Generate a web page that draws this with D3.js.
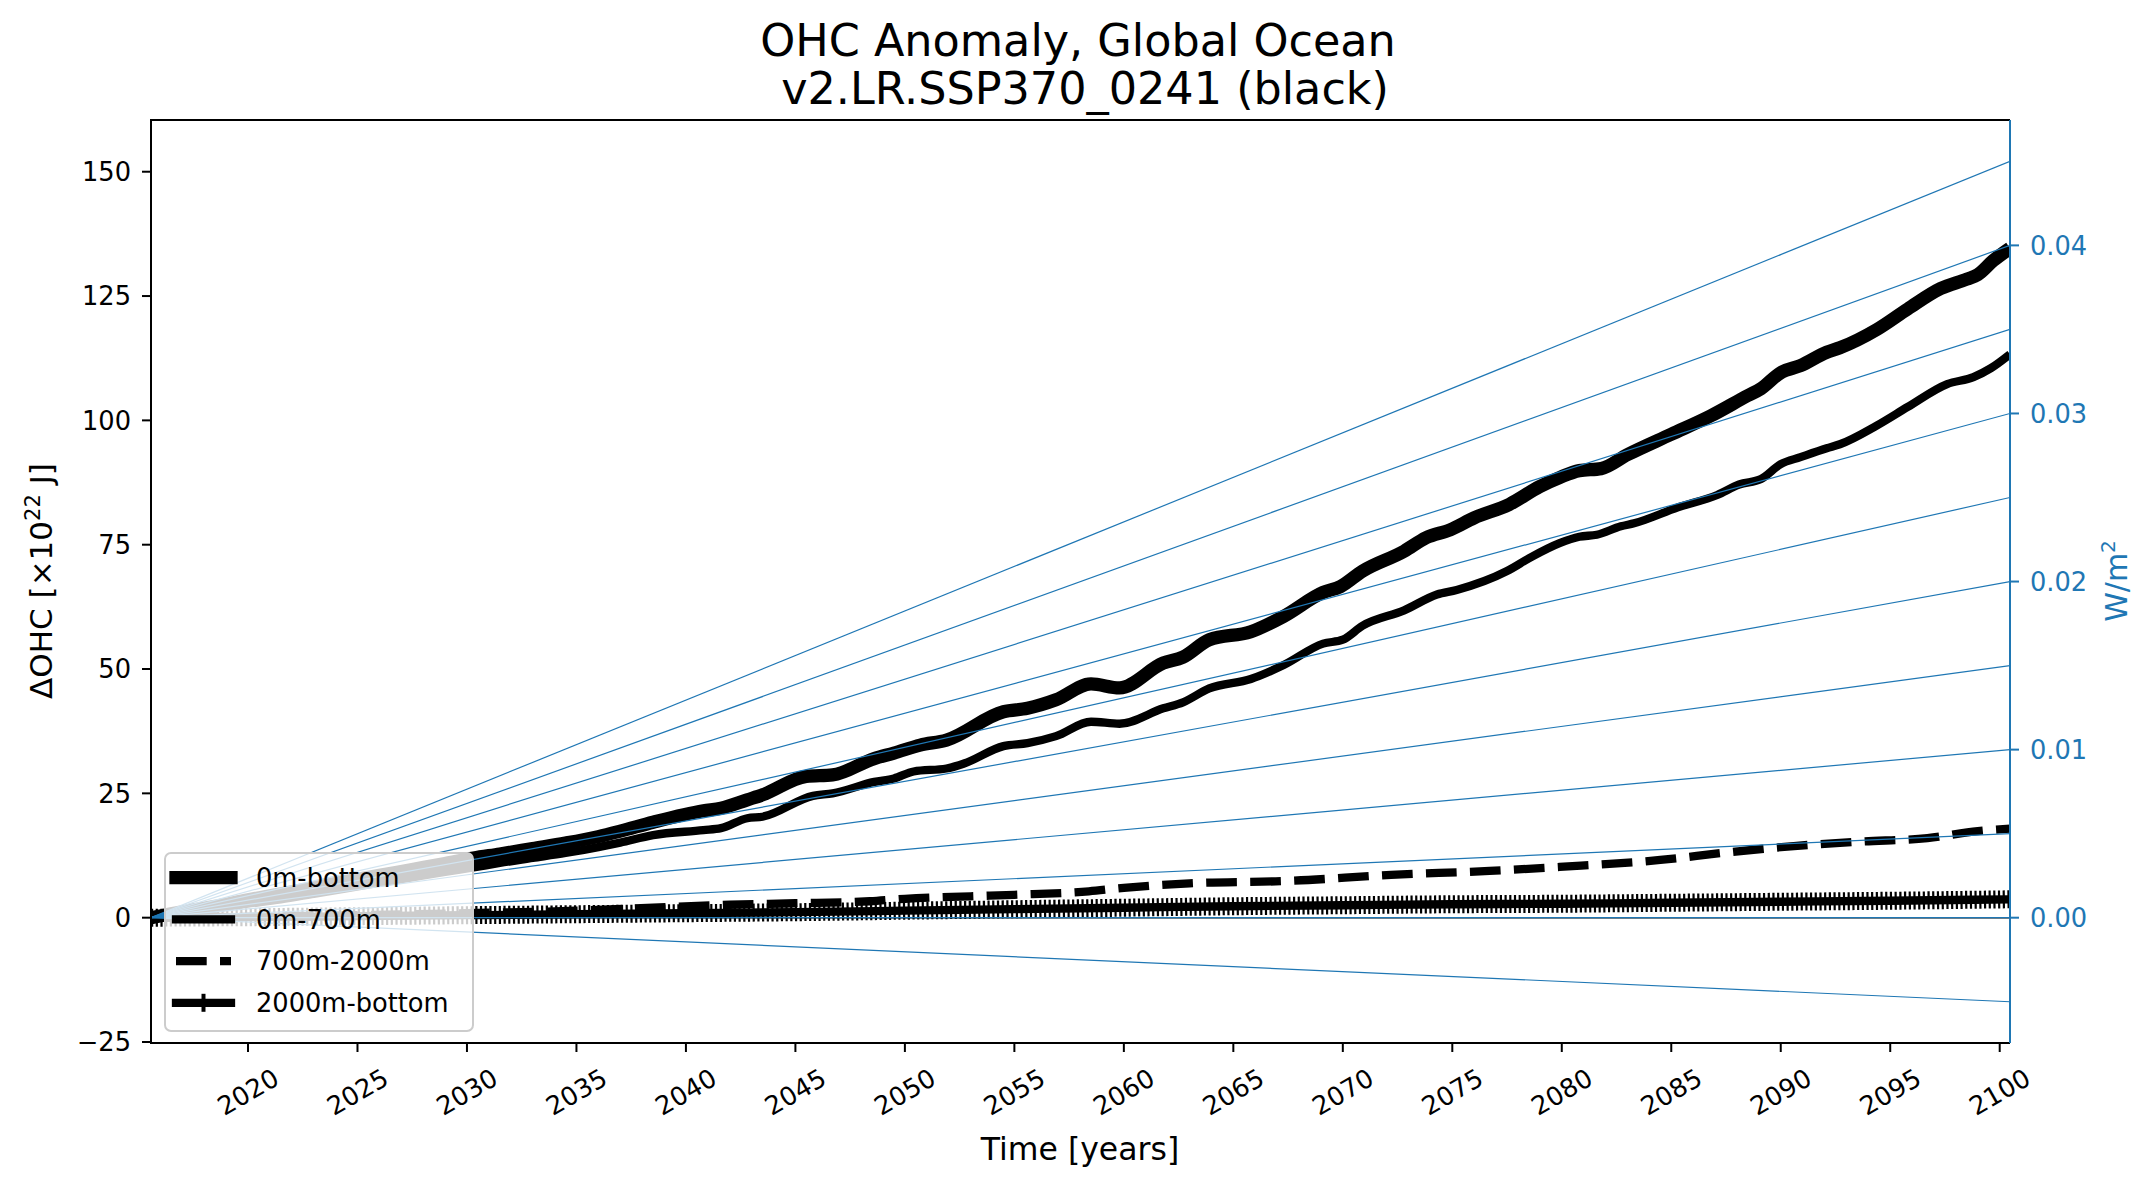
<!DOCTYPE html>
<html><head><meta charset="utf-8">
<script src="https://cdn.jsdelivr.net/npm/d3@7"></script>
<style>html,body{margin:0;padding:0;background:#fff;} svg{display:block;font-family:"DejaVu Sans",sans-serif;}</style>
</head><body>
<svg id="c" width="2155" height="1187"></svg>
<script>
// ---------- data ----------
const totalYears = [2015.57,2017,2018.5,2020,2021.5,2023,2024.5,2026,2027.5,2029,2030.3,2031.5,2033,2034.5,2036,2037.0,2038.5,2040.8,2041.6,2042.8,2043.5,2045.5,2046.7,2048.6,2049.5,2050.7,2051.9,2054.5,2055.6,2056.9,2058.5,2059.8,2061.8,2062.7,2063.9,2065.8,2067.3,2069.1,2069.9,2070.9,2072.8,2073.8,2074.9,2076.0,2077.6,2079.0,2079.9,2080.8,2081.8,2083.0,2085.0,2086.8,2088.5,2089.1,2090.0,2090.9,2092.1,2092.7,2094.4,2095.8,2097.3,2098.5,2099.0,2099.7,2100.47];
const totalOHC   = [0,1.2,2.3,3.6,4.8,6.0,7.3,8.5,9.7,10.9,12.0,12.8,13.9,15.0,16.3,17.4,19.2,21.5,22.0,23.7,24.7,28.4,28.7,32.0,33.1,34.7,35.7,41.4,42.1,43.8,47.0,46.2,51.2,52.4,55.9,57.5,60.6,65.4,66.6,69.7,73.7,76.4,78.0,80.4,83.1,86.7,88.5,89.9,90.3,93.1,97.2,100.9,105.0,106.4,109.6,111.0,113.7,114.6,118.3,122.4,126.5,128.4,129.3,132.1,134.6];

const upperYears = [2015.57,2017,2018.5,2020,2021.5,2023,2024.5,2026,2027.5,2029,2030.3,2031.5,2033,2034.5,2036,2037.0,2038.5,2040.8,2041.6,2042.8,2043.5,2045.8,2046.7,2048.6,2049.5,2050.4,2051.9,2052.7,2054.5,2055.6,2056.9,2058.5,2059.8,2061.8,2062.7,2063.9,2065.8,2067.3,2069.1,2070.0,2070.9,2072.8,2074.3,2075.2,2077.5,2078.6,2079.9,2080.8,2081.6,2082.7,2083.3,2085.3,2087.1,2088.1,2089.1,2090.0,2090.9,2092.1,2092.7,2094.4,2095.8,2097.6,2098.8,2099.6,2100.47];
const upperOHC   = [0,0.9,1.9,2.8,3.7,4.8,5.9,7.0,8.1,9.2,10.1,11.0,12.0,13.0,14.2,15.1,16.6,17.6,18.0,20.0,20.3,24.5,25.0,27.3,28.0,29.4,30.0,31.0,34.5,35.1,36.5,39.4,39.0,42.1,43.3,46.1,48.0,50.8,55.1,55.9,58.7,61.8,65.0,65.9,69.7,72.5,75.3,76.6,77.0,78.7,79.3,82.5,85.0,87.1,88.2,91.2,92.6,94.4,95.2,99.0,102.7,107.3,108.7,110.5,113.3];

const midYears = [2015.57,2020,2025,2030,2035,2038.5,2042,2045,2048.4,2050,2053,2055,2058.4,2060,2063,2067.6,2072.2,2076.7,2079.9,2084.5,2087.5,2090.6,2093.6,2096.7,2099,2100.47];
const midOHC   = [0,0.2,0.5,0.9,1.4,2.0,2.6,2.9,3.3,3.8,4.3,4.6,5.3,6.0,6.9,7.4,8.6,9.4,10.2,11.6,13.1,14.4,15.3,16.0,17.4,17.9];

const deepYears = [2015.57,2020,2025,2030,2035,2040,2045,2050,2055,2060,2065,2070,2075,2080,2085,2090,2095,2100.47];
const deepOHC   = [0,0.1,0.3,0.5,0.7,0.9,1.1,1.4,1.7,2.0,2.3,2.5,2.7,2.8,3.0,3.2,3.4,3.7];

const forcingRates = [-0.005,0,0.005,0.01,0.015,0.02,0.025,0.03,0.035,0.04,0.045]; // W/m^2 reference lines
const xTicks = d3.range(2020, 2101, 5);
const yTicks = [-25,0,25,50,75,100,125,150];
const rTicks = [0,0.01,0.02,0.03,0.04];
const legendLabels = ["0m-bottom","0m-700m","700m-2000m","2000m-bottom"];
const titleLines = ["OHC Anomaly, Global Ocean", " v2.LR.SSP370_0241 (black)"];

// ---------- layout ----------
const L=151, R=2010, T=120, B=1043;
const blue="#1f77b4";
const svg=d3.select("#c");
const x=d3.scaleLinear().domain([2015.57,2100.47]).range([L,R]);
const y=d3.scaleLinear().domain([-25.2,160.4]).range([B,T]);
const y2=d3.scaleLinear().domain([-0.007455,0.04746]).range([B,T]);

svg.append("defs").append("clipPath").attr("id","clip")
  .append("rect").attr("x",L).attr("y",T).attr("width",R-L).attr("height",B-T);
const g=svg.append("g").attr("clip-path","url(#clip)");

// zero line
g.append("line").attr("x1",L).attr("x2",R).attr("y1",y(0)).attr("y2",y(0))
  .attr("stroke","#000").attr("stroke-width",1.6);

const line=d3.line().x(d=>x(d[0])).y(d=>y(d[1])).curve(d3.curveMonotoneX);
const zip=(a,b)=>a.map((v,i)=>[v,b[i]]);

g.append("path").attr("d",line(zip(totalYears,totalOHC))).attr("fill","none")
  .attr("stroke","#000").attr("stroke-width",13.3).attr("stroke-linejoin","round");
g.append("path").attr("d",line(zip(upperYears,upperOHC))).attr("fill","none")
  .attr("stroke","#000").attr("stroke-width",8.3).attr("stroke-linejoin","round");
g.append("path").attr("d",line(zip(midYears,midOHC))).attr("fill","none")
  .attr("stroke","#000").attr("stroke-width",8.3).attr("stroke-dasharray","30.7 13.3");
g.append("path").attr("d",line(zip(deepYears,deepOHC))).attr("fill","none")
  .attr("stroke","#000").attr("stroke-width",8.3).attr("stroke-linejoin","round");
g.append("path").attr("d",line(zip(deepYears,deepOHC))).attr("fill","none")
  .attr("stroke","#000").attr("stroke-width",18).attr("stroke-dasharray","2.2 2.5");

// forcing reference lines (right axis)
forcingRates.forEach(r=>{
  g.append("line").attr("x1",x(2015.57)).attr("y1",y2(0)).attr("x2",x(2100.47)).attr("y2",y2(r))
   .attr("stroke",blue).attr("stroke-width",1.2);
});

// legend
const lg=svg.append("g");
lg.append("rect").attr("x",165).attr("y",853).attr("width",308).attr("height",178).attr("rx",6)
  .attr("fill","#fff").attr("fill-opacity",0.8).attr("stroke","#cccccc").attr("stroke-width",2);
const rowY=i=>877.7+i*41.7;
const hx1=176, hx2=231;
legendLabels.forEach((lab,i)=>{
  const yy=rowY(i);
  const ln=lg.append("line").attr("x1",hx1).attr("x2",hx2).attr("y1",yy).attr("y2",yy).attr("stroke","#000");
  if(i===0) ln.attr("stroke-width",13.3).attr("stroke-linecap","square");
  if(i===1) ln.attr("stroke-width",8.3).attr("stroke-linecap","square");
  if(i===2) ln.attr("stroke-width",8.3).attr("stroke-dasharray","30.7 13.3");
  if(i===3){ ln.attr("stroke-width",8.3).attr("stroke-linecap","square");
    lg.append("line").attr("x1",(hx1+hx2)/2).attr("x2",(hx1+hx2)/2).attr("y1",yy-9).attr("y2",yy+9)
      .attr("stroke","#000").attr("stroke-width",4);
  }
  lg.append("text").attr("x",256).attr("y",yy+9.3).attr("font-size",25.7).text(lab);
});

// spines
svg.append("path").attr("d",`M${R},${T}H${L}V${B}H${R}`).attr("fill","none").attr("stroke","#000").attr("stroke-width",2);
svg.append("line").attr("x1",R).attr("x2",R).attr("y1",T).attr("y2",B).attr("stroke",blue).attr("stroke-width",2);

// x ticks
xTicks.forEach(t=>{
  svg.append("line").attr("x1",x(t)).attr("x2",x(t)).attr("y1",B).attr("y2",B+9).attr("stroke","#000").attr("stroke-width",2);
  svg.append("text").attr("font-size",25.7).attr("text-anchor","middle").attr("dy","0.35em")
    .attr("transform",`translate(${x(t)},${1092}) rotate(-30)`).text(t);
});
// y ticks
yTicks.forEach(t=>{
  svg.append("line").attr("x1",L-9).attr("x2",L).attr("y1",y(t)).attr("y2",y(t)).attr("stroke","#000").attr("stroke-width",2);
  svg.append("text").attr("font-size",25.7).attr("text-anchor","end").attr("x",131).attr("y",y(t)).attr("dy","0.36em")
    .text(t<0?"\u2212"+Math.abs(t):t);
});
// right ticks
rTicks.forEach(t=>{
  svg.append("line").attr("x1",R).attr("x2",R+9).attr("y1",y2(t)).attr("y2",y2(t)).attr("stroke",blue).attr("stroke-width",2);
  svg.append("text").attr("font-size",25.7).attr("fill",blue).attr("x",2030).attr("y",y2(t)).attr("dy","0.36em")
    .text(d3.format(".2f")(t));
});

// labels
const yl=svg.append("text").attr("font-size",31).attr("text-anchor","middle")
  .attr("transform","translate(52,581) rotate(-90)");
yl.append("tspan").text("\u0394OHC [\u00d710");
yl.append("tspan").attr("font-size",21).attr("dy",-12).text("22");
yl.append("tspan").attr("dy",12).text(" J]");
const rl=svg.append("text").attr("font-size",30).attr("text-anchor","middle").attr("fill",blue)
  .attr("transform","translate(2127,581) rotate(-90)");
rl.append("tspan").text("W/m");
rl.append("tspan").attr("font-size",20).attr("dy",-12).text("2");
svg.append("text").attr("font-size",31.5).attr("text-anchor","middle").attr("x",1080).attr("y",1160).text("Time [years]");

// title
svg.append("text").attr("font-size",44.5).attr("text-anchor","middle").attr("x",1078).attr("y",56).text(titleLines[0]);
svg.append("text").attr("font-size",44.5).attr("text-anchor","middle").attr("x",1078).attr("y",104)
  .attr("xml:space","preserve").style("white-space","pre").text(titleLines[1]);
</script>
</body></html>
